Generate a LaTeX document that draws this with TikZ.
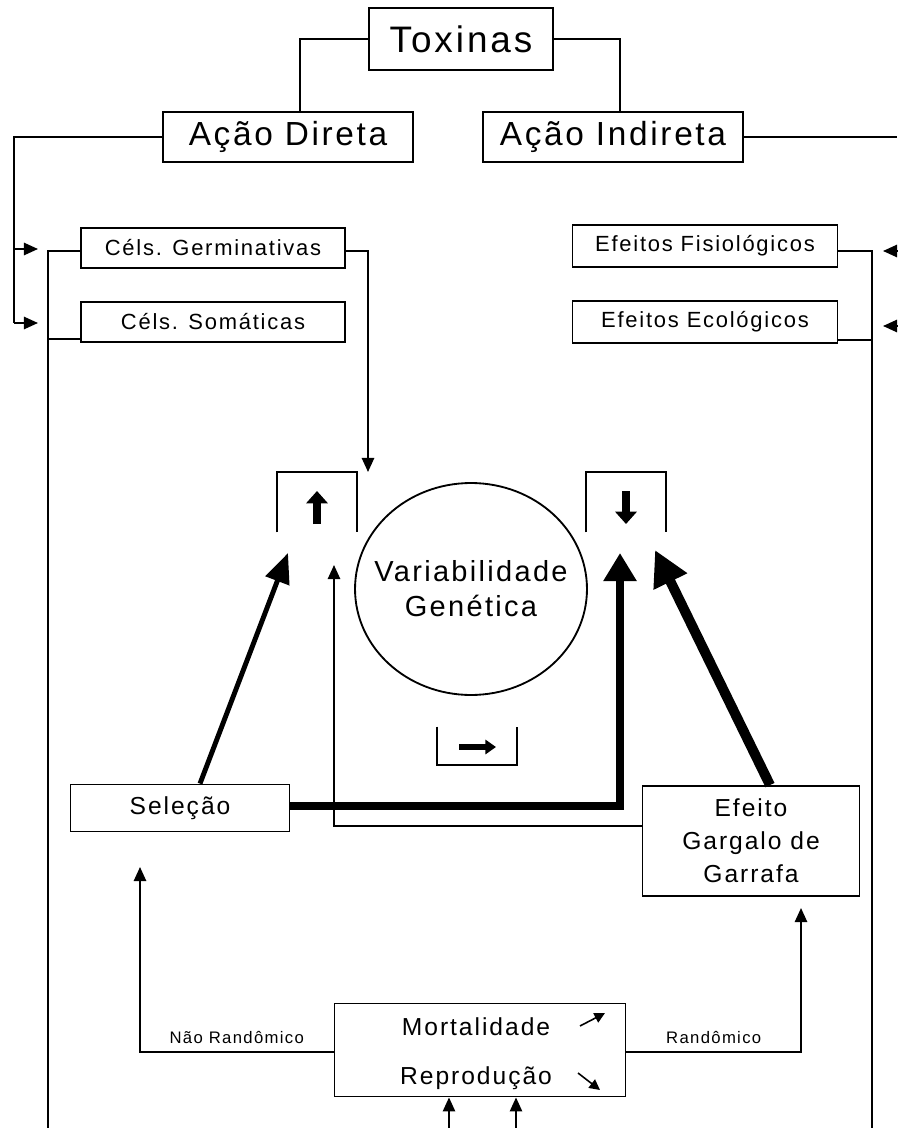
\documentclass[tikz,border=0pt]{standalone}
\usepackage{fontspec}
\setmainfont{Liberation Sans}[LetterSpace=8]
\usetikzlibrary{arrows.meta,shapes.geometric}

\tikzstyle{box}=[draw,line width=1.05pt,inner sep=0pt,align=center]
\tikzstyle{cell}=[box,minimum width=5.28cm,minimum height=0.8cm,font=\fontsize{12.5}{15}\selectfont]
\tikzstyle{effect}=[box,minimum width=5.3cm,minimum height=0.84cm,font=\fontsize{12.5}{15}\selectfont]
\tikzstyle{wire}=[draw,line width=1.05pt]
\tikzstyle{edge}=[draw,line width=1.05pt,-{Triangle[length=8pt,width=7pt]}]
\tikzstyle{small edge}=[draw,line width=0.9pt,-{Triangle[length=6pt,width=6pt]}]
\tikzstyle{heavy edge}=[draw,line width=2.8pt,-{Triangle[length=17pt,width=14pt]}]
\tikzstyle{heavier edge}=[draw,line width=4.5pt,-{Triangle[length=16pt,width=18pt]}]
\tikzstyle{heaviest edge}=[draw,line width=5.7pt,-{Triangle[length=20pt,width=20pt]}]
\tikzstyle{bracket}=[draw,line width=1.05pt]
\tikzstyle{block arrow}=[draw,line width=4.5pt,-{Triangle[length=7pt,width=12pt]}]
\tikzstyle{tag}=[font=\fontsize{9.5}{11}\selectfont,inner sep=1pt]

\begin{document}
\begin{tikzpicture}[x=0.02cm,y=-0.02cm]
\useasboundingbox (0,0) rectangle (897,1128);

% top of the tree
\node[box,minimum width=3.68cm,minimum height=1.24cm,font=\fontsize{21}{25}\selectfont] (tox) at (461,39) {Toxinas};
\node[box,minimum width=5cm,minimum height=1cm,font=\fontsize{19}{23}\selectfont] (direta) at (288,137) {Ação Direta};
\node[box,minimum width=5.2cm,minimum height=1cm,font=\fontsize{19}{23}\selectfont] (indireta) at (613,137) {Ação Indireta};

\foreach \pos/\name/\txt in {{(213,248)/germ/Céls. Germinativas}, {(213,322)/soma/Céls. Somáticas}}{
  \node[cell] (\name) at \pos {\txt};
}
\foreach \pos/\name/\txt in {{(705,246)/fisio/Efeitos Fisiológicos}, {(705,322)/eco/Efeitos Ecológicos}}{
  \node[effect] (\name) at \pos {\txt};
}

% centre
\node[ellipse,draw,line width=1.05pt,minimum width=4.64cm,minimum height=4.24cm,inner xsep=-0.36cm,inner ysep=0pt,
      align=center,font=\fontsize{16.5}{20}\selectfont] (var) at (471,589) {Variabilidade\\Genética};

\node[minimum width=1.6cm,minimum height=1.2cm,inner sep=0pt] (upbr) at (317,502) {};
\node[minimum width=1.6cm,minimum height=1.2cm,inner sep=0pt] (downbr) at (626,502) {};
\node[minimum width=1.6cm,minimum height=0.76cm,inner sep=0pt] (rightbr) at (477,746) {};
\path[bracket] (upbr.south west) -- (upbr.north west) -- (upbr.north east) -- (upbr.south east);
\path[bracket] (downbr.south west) -- (downbr.north west) -- (downbr.north east) -- (downbr.south east);
\path[bracket] (rightbr.north west) -- (rightbr.south west) -- (rightbr.south east) -- (rightbr.north east);
\path[block arrow] ([shift={(0,22)}]upbr.center) -- ([shift={(0,-11)}]upbr.center);
\path[block arrow] ([shift={(0,-11)}]downbr.center) -- ([shift={(0,22)}]downbr.center);
\path[draw,line width=3.4pt,-{Triangle[length=6pt,width=8pt]}] ([shift={(-18,1)}]rightbr.center) -- ([shift={(19,1)}]rightbr.center);

\node[box,minimum width=4.38cm,minimum height=0.94cm,font=\fontsize{14}{17}\selectfont] (sel) at (180,808) {Seleção};
\node[box,minimum width=4.34cm,minimum height=2.2cm,font=\fontsize{14}{18.7}\selectfont] (gargalo) at (751,841) {Efeito\\Gargalo de\\Garrafa};

% bottom
\node[box,minimum width=5.82cm,minimum height=1.86cm] (mort) at (480,1050) {};
\node[font=\fontsize{14}{17}\selectfont] (mortl) at (476,1027) {Mortalidade};
\node[font=\fontsize{14}{17}\selectfont] (repl) at (476,1078) {Reprodução};
\path[small edge] ([shift={(100,-24)}]mort.center) -- ([shift={(125,-37)}]mort.center);
\path[small edge] ([shift={(98,23)}]mort.center) -- ([shift={(120,40)}]mort.center);

\coordinate (dbus) at (14,323);
\coordinate (germIn) at (38,249);
\coordinate (somaIn) at (38,323);
\coordinate (ibus) at (897,137);
\coordinate (fisioIn) at (883,251);
\coordinate (ecoIn) at (883,326);
\coordinate (lbus) at (48,1128);
\coordinate (rbus) at (872,1128);
\coordinate (germEnd) at (368,472);
\coordinate (upL) at (288,553);
\coordinate (upR) at (334,565);
\coordinate (downL) at (620,553);
\coordinate (downR) at (655,550);
\coordinate (selIn) at (140,867);
\coordinate (garIn) at (801,908);
\coordinate (repA) at (449,1128);
\coordinate (repB) at (516,1128);

\path[wire] (tox.west) -| ([shift={(12,0)}]direta.north);
\path[wire] (tox.east) -| ([shift={(7,0)}]indireta.north);
\path[wire] (direta.west) -| (dbus);
\path[edge] (dbus |- germIn) -- (germIn);
\path[edge] (dbus) -- (somaIn);
\path[wire] (indireta.east) -- (ibus);
\path[edge] (ibus |- fisioIn) -- (fisioIn);
\path[edge] (ibus |- ecoIn) -- (ecoIn);

\path[wire] ([shift={(0,3)}]germ.west) -| (lbus);
\path[wire] ([shift={(0,-4)}]soma.south west) -| (lbus);
\path[wire] ([shift={(0,5)}]fisio.east) -| (rbus);
\path[wire] ([shift={(0,-4)}]eco.south east) -| (rbus);
\path[edge] ([shift={(0,3)}]germ.east) -| (germEnd);

\path[heavy edge] ([shift={(20,0)}]sel.north) -- (upL);
\path[heavier edge] ([shift={(0,-2)}]sel.east) -| (downL);
\path[heaviest edge] ([shift={(19,0)}]gargalo.north) -- (downR);
\path[edge] ([shift={(0,-15)}]gargalo.west) -| (upR);

\path[edge] ([shift={(0,2)}]mort.west) -| node[tag,pos=0.25,above=3pt] {Não Randômico} (selIn);
\path[edge] ([shift={(0,2)}]mort.east) -| node[tag,pos=0.25,above=3pt] {Randômico} (garIn);
\path[edge] (repA) -- (repA |- mort.south);
\path[edge] (repB) -- (repB |- mort.south);
\end{tikzpicture}
\end{document}
